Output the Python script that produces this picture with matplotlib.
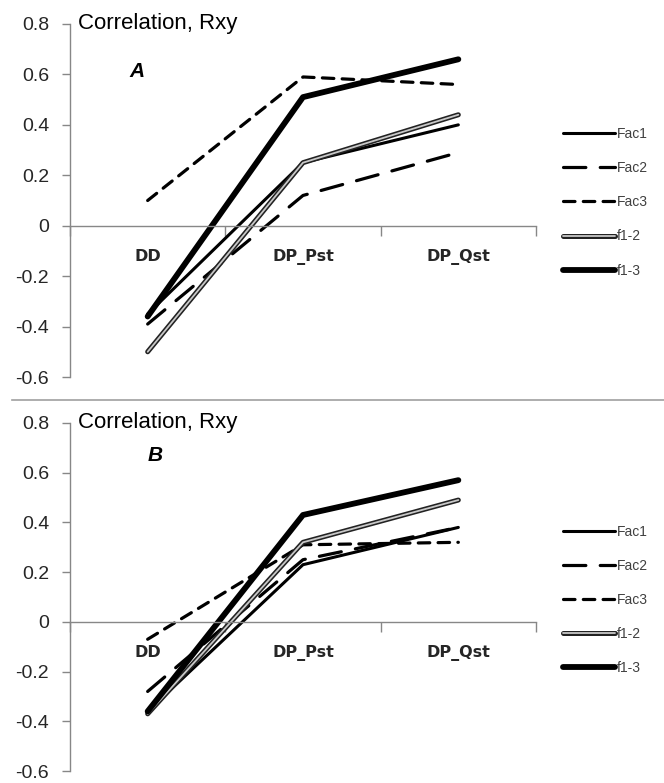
import matplotlib
matplotlib.use("Agg")
import matplotlib.pyplot as plt
import matplotlib.patheffects as pe
from matplotlib.lines import Line2D

categories = ["DD", "DP_Pst", "DP_Qst"]
series_names = ["Fac1", "Fac2", "Fac3", "f1-2", "f1-3"]

a_fac1 = [-0.35, 0.25, 0.40]
a_fac2 = [-0.39, 0.12, 0.29]
a_fac3 = [0.10, 0.59, 0.56]
a_f12 = [-0.50, 0.25, 0.44]
a_f13 = [-0.36, 0.51, 0.66]

b_fac1 = [-0.36, 0.23, 0.38]
b_fac2 = [-0.28, 0.25, 0.38]
b_fac3 = [-0.07, 0.31, 0.32]
b_f12 = [-0.37, 0.32, 0.49]
b_f13 = [-0.36, 0.43, 0.57]

yticks = [0.8, 0.6, 0.4, 0.2, 0, -0.2, -0.4, -0.6]
ytick_labels = ["0.8", "0.6", "0.4", "0.2", "0", "-0.2", "-0.4", "-0.6"]

GRAY = "#878787"
TXT = "#262626"

fig = plt.figure(figsize=(6.64, 7.83), dpi=100)

W, H = 664, 783
def axrect(left, right, top, bottom):
    return [left / W, 1 - bottom / H, (right - left) / W, (bottom - top) / H]

axA = fig.add_axes(axrect(70, 536, 24, 377))
axB = fig.add_axes(axrect(70, 536, 423, 771))

def styles():
    return [
        dict(color="black", lw=2.2, solid_capstyle="round"),
        dict(color="black", lw=2.3, dashes=(7, 4.5), dash_capstyle="round"),
        dict(color="black", lw=2.3, dashes=(3.6, 2.6), dash_capstyle="round"),
        dict(color="#c8c8c8", lw=1.3, solid_capstyle="round",
             path_effects=[pe.Stroke(linewidth=3.6, foreground="#222222"), pe.Normal()]),
        dict(color="black", lw=4.2, solid_capstyle="round"),
    ]

def draw(ax, data, letter, letter_x, letter_y):
    x = list(range(len(categories)))
    handles = []
    for name, vals, st in zip(series_names, data, styles()):
        ln, = ax.plot(x, vals, label=name, **st)
        handles.append(ln)
    ax.set_xlim(-0.5, 2.5)
    ax.set_ylim(-0.6, 0.8)
    for s in ["top", "right"]:
        ax.spines[s].set_visible(False)
    ax.spines["left"].set_color(GRAY)
    ax.spines["left"].set_linewidth(1.0)
    ax.spines["bottom"].set_position(("data", 0))
    ax.spines["bottom"].set_color(GRAY)
    ax.spines["bottom"].set_linewidth(1.0)
    ax.set_yticks(yticks)
    ax.set_yticklabels(ytick_labels, fontsize=14, color=TXT, family="Liberation Sans")
    ax.tick_params(axis="y", direction="out", length=6, width=1, color=GRAY, pad=9)
    ax.set_xticks(x)
    ax.set_xticklabels(categories, fontsize=11.5, fontweight="bold", color=TXT,
                       family="DejaVu Sans")
    ax.tick_params(axis="x", which="major", length=0, pad=17)
    ax.set_xticks([-0.5, 0.5, 1.5, 2.5], minor=True)
    ax.tick_params(axis="x", which="minor", direction="out", length=7, width=1, color=GRAY)
    ax.patch.set_alpha(0)
    ax.text(-0.45, 0.8, "Correlation, Rxy", fontsize=16, color="black",
            family="Liberation Sans", va="center", ha="left")
    ax.text(letter_x, letter_y, letter, fontsize=15, fontweight="bold", style="italic",
            family="Liberation Sans", va="center", ha="left")
    leg = ax.legend(handles=handles, loc="upper left", bbox_to_anchor=(1.058, 0.708),
                    frameon=False, borderpad=0, borderaxespad=0, handlelength=3.75,
                    handletextpad=0.12, labelspacing=1.45,
                    prop=dict(family="Liberation Sans", size=10))
    for t in leg.get_texts():
        t.set_color("#404040")

draw(axA, [a_fac1, a_fac2, a_fac3, a_f12, a_f13], "A", -0.12, 0.61)
draw(axB, [b_fac1, b_fac2, b_fac3, b_f12, b_f13], "B", 0.0, 0.67)

fig.add_artist(Line2D([12 / W, 1.0], [1 - 400 / H, 1 - 400 / H], color="#a0a0a0", lw=1.2))

fig.savefig("out.png", dpi=100)
